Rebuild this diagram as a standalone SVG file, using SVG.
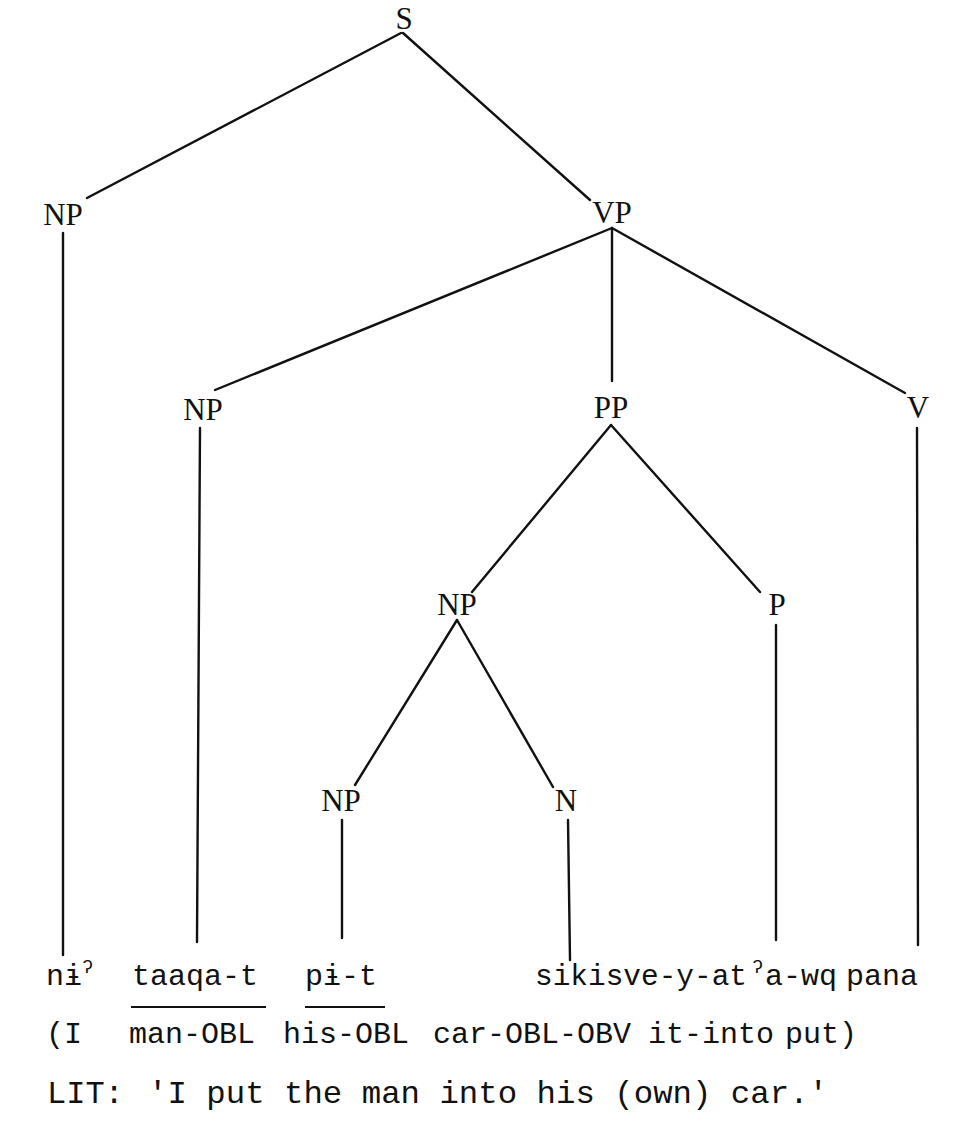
<svg xmlns="http://www.w3.org/2000/svg" width="975" height="1142" viewBox="0 0 975 1142">
<style>
.lbl{font-family:"Liberation Serif","Times New Roman",serif;font-size:31px;fill:#111;text-anchor:middle}
.w{font-family:"Liberation Mono","DejaVu Sans Mono",monospace;font-size:30px;fill:#111}
.t{font-size:32px}
.sup{font-size:19px}
.e{stroke:#111;stroke-width:2.4;fill:none;stroke-linecap:round}
.u{stroke:#111;stroke-width:2.2}
</style>
<rect width="975" height="1142" fill="#fff"/>
<g id="connectors">
<line class="e" x1="401" y1="33" x2="87" y2="198"/>
<line class="e" x1="403" y1="33" x2="590" y2="200"/>
<line class="e" x1="612" y1="228" x2="215" y2="390"/>
<line class="e" x1="612" y1="228" x2="612" y2="381"/>
<line class="e" x1="612" y1="228" x2="905" y2="393"/>
<line class="e" x1="63" y1="233" x2="63" y2="955"/>
<line class="e" x1="200" y1="428" x2="197" y2="942"/>
<line class="e" x1="611" y1="425" x2="472" y2="592"/>
<line class="e" x1="611" y1="425" x2="760" y2="592"/>
<line class="e" x1="917" y1="428" x2="918" y2="945"/>
<line class="e" x1="457" y1="620" x2="355" y2="785"/>
<line class="e" x1="457" y1="620" x2="553" y2="787"/>
<line class="e" x1="776" y1="625" x2="776" y2="940"/>
<line class="e" x1="342" y1="820" x2="342" y2="938"/>
<line class="e" x1="568" y1="820" x2="570" y2="960"/>
</g>
<g id="S"><text class="lbl" x="404" y="29">S</text></g>
<g id="NP1"><text class="lbl" x="63" y="225">NP</text></g>
<g id="VP"><text class="lbl" x="612" y="223">VP</text></g>
<g id="NP2"><text class="lbl" x="203" y="420">NP</text></g>
<g id="PP"><text class="lbl" x="611" y="418">PP</text></g>
<g id="V"><text class="lbl" x="918" y="418">V</text></g>
<g id="NP3"><text class="lbl" x="457" y="615">NP</text></g>
<g id="P"><text class="lbl" x="777" y="615">P</text></g>
<g id="NP4"><text class="lbl" x="341" y="811">NP</text></g>
<g id="N"><text class="lbl" x="566" y="811">N</text></g>
<g id="words">
<text class="w" x="46" y="985">nɨ<tspan class="sup" dy="-12">ʔ</tspan></text>
<text class="w" x="132" y="985">taaqa-t</text>
<line class="u" x1="131" y1="1007" x2="266" y2="1007"/>
<text class="w" x="305" y="985">pɨ-t</text>
<line class="u" x1="305" y1="1007" x2="385" y2="1007"/>
<text class="w" x="535" y="985" textLength="212" lengthAdjust="spacingAndGlyphs">sikisve-y-at</text>
<text class="w sup" x="752" y="973">ʔ</text>
<text class="w" x="765" y="985">a-wq</text>
<text class="w" x="846" y="985">pana</text>
</g>
<g id="gloss">
<text class="w" x="46" y="1043">(I</text>
<text class="w" x="129" y="1043">man-OBL</text>
<text class="w" x="283" y="1043">his-OBL</text>
<text class="w" x="433" y="1043">car-OBL-OBV</text>
<text class="w" x="648" y="1043">it-into</text>
<text class="w" x="785" y="1043">put)</text>
</g>
<g id="translation">
<text class="w t" x="47" y="1103">LIT:</text>
<text class="w t" x="148" y="1103" textLength="680" lengthAdjust="spacingAndGlyphs">'I put the man into his (own) car.'</text>
</g>
</svg>
